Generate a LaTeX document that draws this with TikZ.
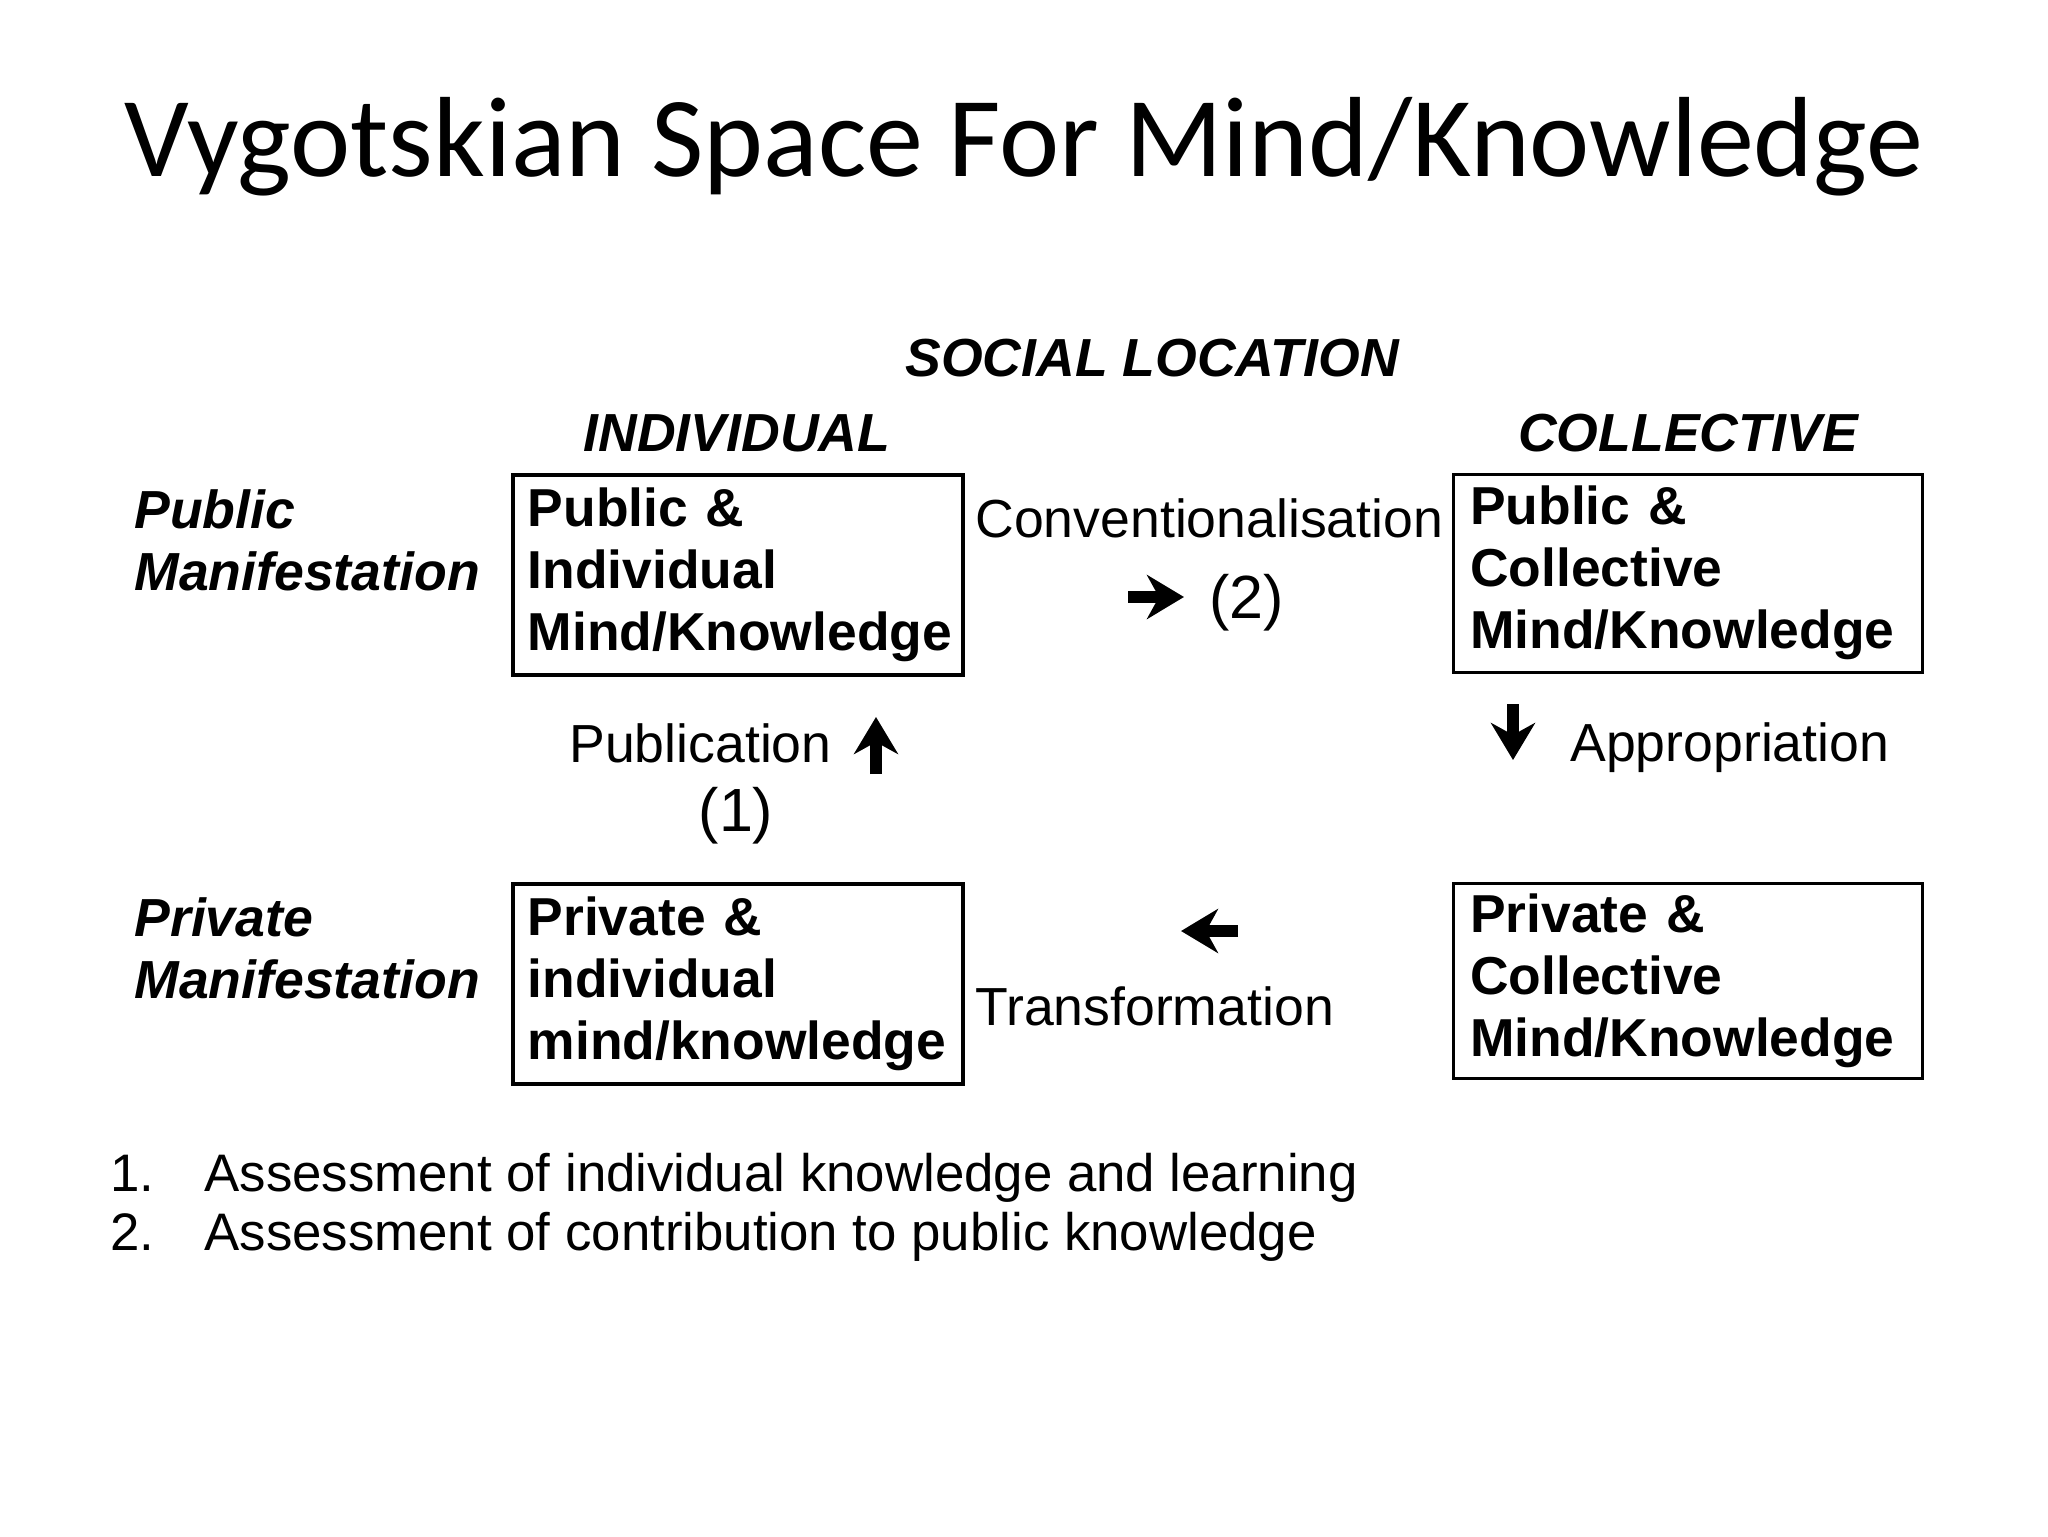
\documentclass[tikz,border=0pt]{standalone}
\usepackage{fontspec}
\setmainfont{Liberation Sans}
\newfontfamily\slidefont{Carlito}
\usetikzlibrary{arrows.meta}

\begin{document}
\begin{tikzpicture}[%
	x=0.5pt, y=-0.5pt,
	every node/.style = {inner sep=0pt, font=\fontsize{26.8}{31}\selectfont},
	heading/.style = {font=\fontsize{26.8}{31}\selectfont\bfseries\itshape},
	mindbox/.style = {draw, anchor=north west, align=left, inner ysep=0pt,
	  font=\fontsize{26.7}{31}\selectfont\bfseries},
	boxleft/.style = {mindbox, line width=1.75pt, inner xsep=7.5pt, text width=210pt, minimum height=100pt},
	boxright/.style = {mindbox, line width=1.25pt, inner xsep=8.5pt, text width=217.5pt},
	label/.style = {anchor=base west},
	number/.style = {anchor=base west, font=\fontsize{30.5}{36}\selectfont},
	note/.style = {anchor=base west, font=\fontsize{26.4}{31}\selectfont},
	glyph/.style = {line width=6.2pt, -{Stealth[length=18.5pt, width=22pt, inset=6pt]}}
	]
  \useasboundingbox (0,0) rectangle (2048,1536);
  \fill[white] (0,0) rectangle (2048,1536);

  \node [anchor=base, font=\slidefont\fontsize{57}{70}\selectfont] (title) at (1024,176) {Vygotskian Space For Mind/Knowledge};

  % column and row headings
  \node [heading, anchor=base] (social) at (1152,376) {SOCIAL LOCATION};
  \node [heading, anchor=base] (indiv) at (737,451) {INDIVIDUAL};
  \node [heading, anchor=base] (coll) at (1688,451) {COLLECTIVE};
  \node [heading, anchor=base west, align=left] (pubman) at (134,590) {Public\\Manifestation};
  \node [heading, anchor=base west, align=left] (privman) at (134,998) {Private\\Manifestation};

  % the four spaces
  \node [boxleft] (b1) at (511,473) {Public \&\\Individual\\Mind/Knowledge};
  \node [boxright, minimum height=99pt] (b2) at (1452,473) {Public \&\\Collective\\Mind/Knowledge};
  \node [boxleft] (b3) at (511,882) {Private \&\\individual\\mind/knowledge};
  \node [boxright, minimum height=97.5pt] (b4) at (1452,882) {Private \&\\Collective\\Mind/Knowledge};

  % transitions
  \node [label] (conv) at (975,537) {Conventionalisation};
  \node [number] (two) at (1209,618) {(2)};
  \node [label] (publ) at (569,762) {Publication};
  \node [number, anchor=base] (one) at (736,831) {(1)};
  \node [label] (appr) at (1570,761) {Appropriation};
  \node [label] (trans) at (975,1025) {Transformation};

  \coordinate (convS) at (1128,597);
  \coordinate (convE) at (1184,597);
  \coordinate (publS) at (876,774);
  \coordinate (publE) at (876,717);
  \coordinate (apprS) at (1513,704);
  \coordinate (apprE) at (1513,760);
  \coordinate (transS) at (1238,931);
  \coordinate (transE) at (1181,931);
  \draw [glyph] (convS) -- (convE);
  \draw [glyph] (publS) -- (publE);
  \draw [glyph] (apprS) -- (apprE);
  \draw [glyph] (transS) -- (transE);

  % notes
  \node [note] (n1) at (110,1191) {1.};
  \node [note] (l1) at (204,1191) {Assessment of individual knowledge and learning};
  \node [note] (n2) at (110,1250) {2.};
  \node [note] (l2) at (204,1250) {Assessment of contribution to public knowledge};
\end{tikzpicture}
\end{document}
